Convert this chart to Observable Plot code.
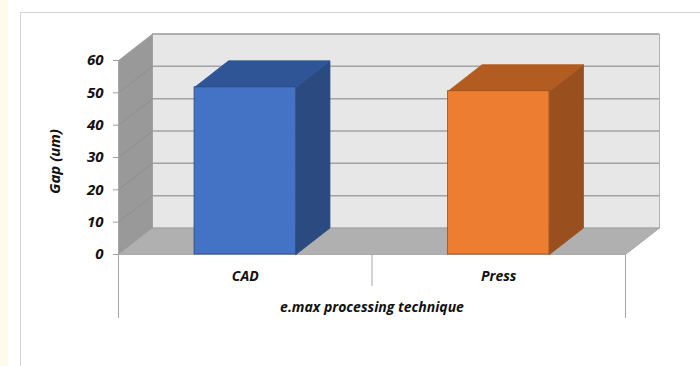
<!DOCTYPE html>
<html>
<head>
<meta charset="utf-8">
<script src="https://cdn.jsdelivr.net/npm/d3@7"></script>
<script src="https://cdn.jsdelivr.net/npm/@observablehq/plot@0.6"></script>
<style>
  html, body { margin: 0; padding: 0; background: #ffffff; }
  #wrap { position: relative; width: 700px; height: 366px; overflow: hidden; background: #ffffff; }
  #strip { position: absolute; left: 0; top: 0; width: 8px; height: 366px; background: #fffbea; }
  #border { position: absolute; left: 20px; top: 12px; width: 700px; height: 400px;
            border-top: 1.5px solid #d4d4d4; border-left: 1.5px solid #d4d4d4; box-sizing: border-box; }
  #chart { position: absolute; left: 0; top: 0; }
</style>
</head>
<body>
<div id="wrap"><div id="strip"></div><div id="border"></div><div id="chart"></div></div>
<script>
// ---- data ----
const categories = ["CAD", "Press"];
const gapValues = [51.7, 50.5];
const yTicks = [0, 10, 20, 30, 40, 50, 60];
const yLabel = "Gap (um)";
const xLabel = "e.max processing technique";

// palette (front, top, side)
const frontColors = ["#4472c4", "#ed7d31"];
const topColors = ["#2f5597", "#b35c21"];
const sideColors = ["#2a4a80", "#9a4f1e"];

// ---- layout / projection ----
const W = 700, H = 366;
const mL = 118, mR = 75, mT = 60, mB = 112;
const yMax = 60, nCat = categories.length;
const pxPerX = (W - mL - mR) / nCat;
const pxPerY = (H - mT - mB) / yMax;
const DX = 34 / pxPerX;      // depth offset in x units
const DY = 26.5 / pxPerY;    // depth offset in y units
const barW = 0.4;

// polygons in data space
function poly(id, fill, pts) { return pts.map(([x, y]) => ({id, fill, x, y})); }
const walls = [
  ...poly("back", "#e7e7e7", [[DX, DY], [nCat + DX, DY], [nCat + DX, yMax + DY], [DX, yMax + DY], [DX, DY]]),
  ...poly("side", "#999999", [[0, 0], [DX, DY], [DX, yMax + DY], [0, yMax], [0, 0]]),
  ...poly("floor", "#b0b0b0", [[0, 0], [nCat, 0], [nCat + DX, DY], [DX, DY], [0, 0]])
];
const barFaces = [];
categories.forEach((c, i) => {
  const v = gapValues[i];
  const x0 = i + 0.5 - barW / 2, x1 = i + 0.5 + barW / 2;
  barFaces.push(...poly(c + "-side", sideColors[i], [[x1, 0], [x1 + DX, DY], [x1 + DX, v + DY], [x1, v], [x1, 0]]));
  barFaces.push(...poly(c + "-top", topColors[i], [[x0, v], [x1, v], [x1 + DX, v + DY], [x0 + DX, v + DY], [x0, v]]));
});
const bars = categories.map((c, i) => ({c, i, v: gapValues[i], x1: i + 0.5 - barW / 2, x2: i + 0.5 + barW / 2}));

const font = "'Open Sans', Lato, sans-serif";
const textStyle = {fontWeight: "bold", fontStyle: "italic", fill: "#111"};

const plot = Plot.plot({
  width: W, height: H,
  marginLeft: mL, marginRight: mR, marginTop: mT, marginBottom: mB,
  style: {background: "transparent", fontFamily: font, overflow: "visible"},
  x: {type: "linear", domain: [0, nCat], axis: null},
  y: {type: "linear", domain: [0, yMax], axis: null},
  marks: [
    Plot.line(walls, {x: "x", y: "y", z: "id", fill: "fill", stroke: "#a0a0a0", strokeWidth: 0.8, curve: "linear"}),
    Plot.ruleY(yTicks.slice(1), {y: d => d + DY, x1: DX, x2: nCat + DX, stroke: "#a3a3a3", strokeWidth: 1.5, strokeOpacity: 1}),
    Plot.link(yTicks.slice(1, -1), {x1: 0, y1: d => d, x2: DX, y2: d => d + DY, stroke: "#8c8c8c", strokeWidth: 0.8}),
    Plot.line(barFaces, {x: "x", y: "y", z: "id", fill: "fill", stroke: "fill", strokeWidth: 0.8}),
    Plot.rectY(bars, {x1: "x1", x2: "x2", y1: 0, y2: "v", fill: (d) => frontColors[d.i], stroke: (d) => sideColors[d.i], strokeWidth: 0.8}),
    Plot.ruleX([0, nCat], {x: d => d, y1: 0, y2: -64 / pxPerY, stroke: "#a6a6a6", strokeWidth: 1}),
    Plot.ruleX(d3.range(1, nCat), {x: d => d, y1: 0, y2: -32 / pxPerY, stroke: "#a6a6a6", strokeWidth: 1}),
    Plot.axisY(yTicks, {anchor: "left", tickSize: 5, tickPadding: 10, stroke: "#a0a0a0", fontSize: 15, ...textStyle, label: null}),
    Plot.text([yLabel], {frameAnchor: "left", textAnchor: "middle", dx: -63, dy: 4, rotate: -90, fontSize: 15, ...textStyle}),
    Plot.text(categories, {x: (d, i) => i + 0.5, y: 0, dy: 22, fontSize: 14, ...textStyle}),
    Plot.text([xLabel], {x: nCat / 2, y: 0, dy: 53, fontSize: 14, ...textStyle})
  ]
});
document.getElementById("chart").appendChild(plot);
</script>
</body>
</html>
